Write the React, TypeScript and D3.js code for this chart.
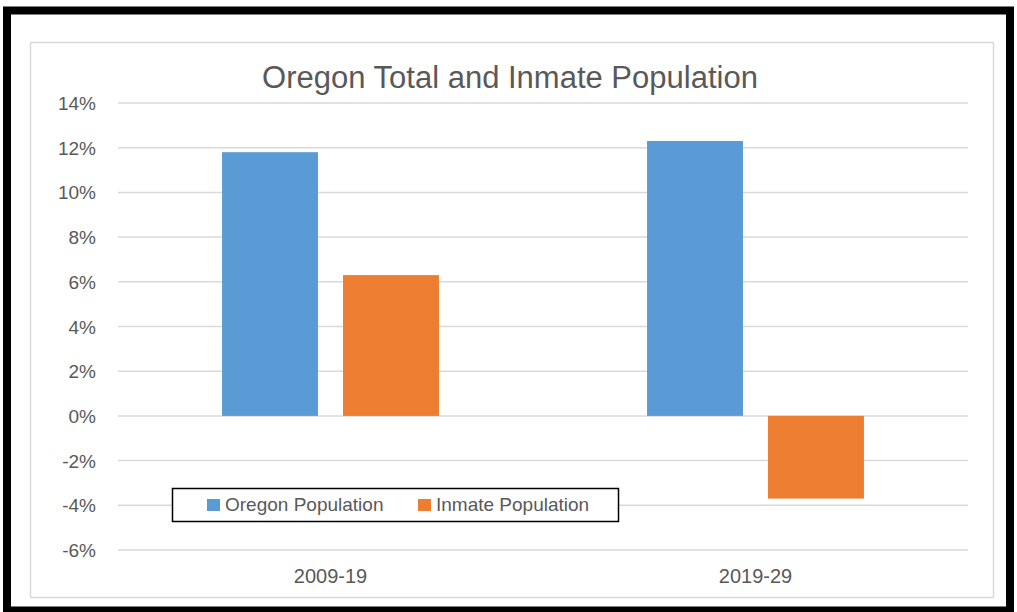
import React from "react";
import { scaleBand, scaleLinear } from "d3";

const categories = ["2009-19", "2019-29"];
const seriesNames = ["Oregon Population", "Inmate Population"];
const oregonValues = [11.8, 12.3];
const inmateValues = [6.3, -3.7];
const yTicks = [14, 12, 10, 8, 6, 4, 2, 0, -2, -4, -6];
const colors = ["#5B9BD5", "#ED7D31"];

const W = 1017;
const H = 612;
const plot = { left: 118, right: 968, top: 103, bottom: 550 };
const font = "'Liberation Sans', Arial, sans-serif";
const textColor = "#595959";

export default function App() {
  const x = scaleBand<string>()
    .domain(categories)
    .range([plot.left, plot.right]);
  const inner = scaleBand<string>()
    .domain(seriesNames)
    .range([0, x.bandwidth()])
    .paddingInner(0.207)
    .paddingOuter(0.86);
  const y = scaleLinear().domain([-6, 14]).range([plot.bottom, plot.top]);

  const series = [oregonValues, inmateValues];

  return (
    <svg
      width={W}
      height={H}
      style={{ position: "absolute", left: 0, top: 0, background: "#fff" }}
    >
      <rect x={0} y={0} width={W} height={H} fill="#fff" />
      {/* chart area border */}
      <rect x={30.5} y={42.5} width={963} height={555} fill="#fff" stroke="#d9d9d9" strokeWidth={1.5} />

      <text
        x={510}
        y={88}
        textAnchor="middle"
        fontFamily={font}
        fontSize={31}
        fill={textColor}
      >
        Oregon Total and Inmate Population
      </text>

      {yTicks.map((t) => (
        <g key={t}>
          <line
            x1={plot.left}
            x2={plot.right}
            y1={y(t)}
            y2={y(t)}
            stroke="#d9d9d9"
            strokeWidth={1.5}
          />
          <text
            x={96}
            y={y(t) + 7}
            textAnchor="end"
            fontFamily={font}
            fontSize={19}
            fill={textColor}
          >
            {t}%
          </text>
        </g>
      ))}

      {categories.map((c, i) => (
        <g key={c}>
          {series.map((vals, s) => {
            const v = vals[i];
            const bx = (x(c) as number) + (inner(seriesNames[s]) as number);
            return (
              <rect
                key={s}
                x={bx}
                y={y(Math.max(0, v))}
                width={inner.bandwidth()}
                height={Math.abs(y(v) - y(0))}
                fill={colors[s]}
              />
            );
          })}
          <text
            x={(x(c) as number) + x.bandwidth() / 2}
            y={583}
            textAnchor="middle"
            fontFamily={font}
            fontSize={20}
            fill={textColor}
          >
            {c}
          </text>
        </g>
      ))}

      {/* legend */}
      <g>
        <rect x={172.5} y={488.5} width={446} height={33} fill="#fff" stroke="#000" strokeWidth={1.5} />
        {seriesNames.map((n, s) => {
          const lx = s === 0 ? 207 : 418;
          return (
            <g key={n}>
              <rect x={lx} y={499} width={13} height={12} fill={colors[s]} />
              <text
                x={lx + 18}
                y={511}
                fontFamily={font}
                fontSize={19}
                fill={textColor}
              >
                {n}
              </text>
            </g>
          );
        })}
      </g>

      {/* outer black frame */}
      <rect x={7} y={10.5} width={1003} height={600} fill="none" stroke="#000" strokeWidth={8} />
    </svg>
  );
}
